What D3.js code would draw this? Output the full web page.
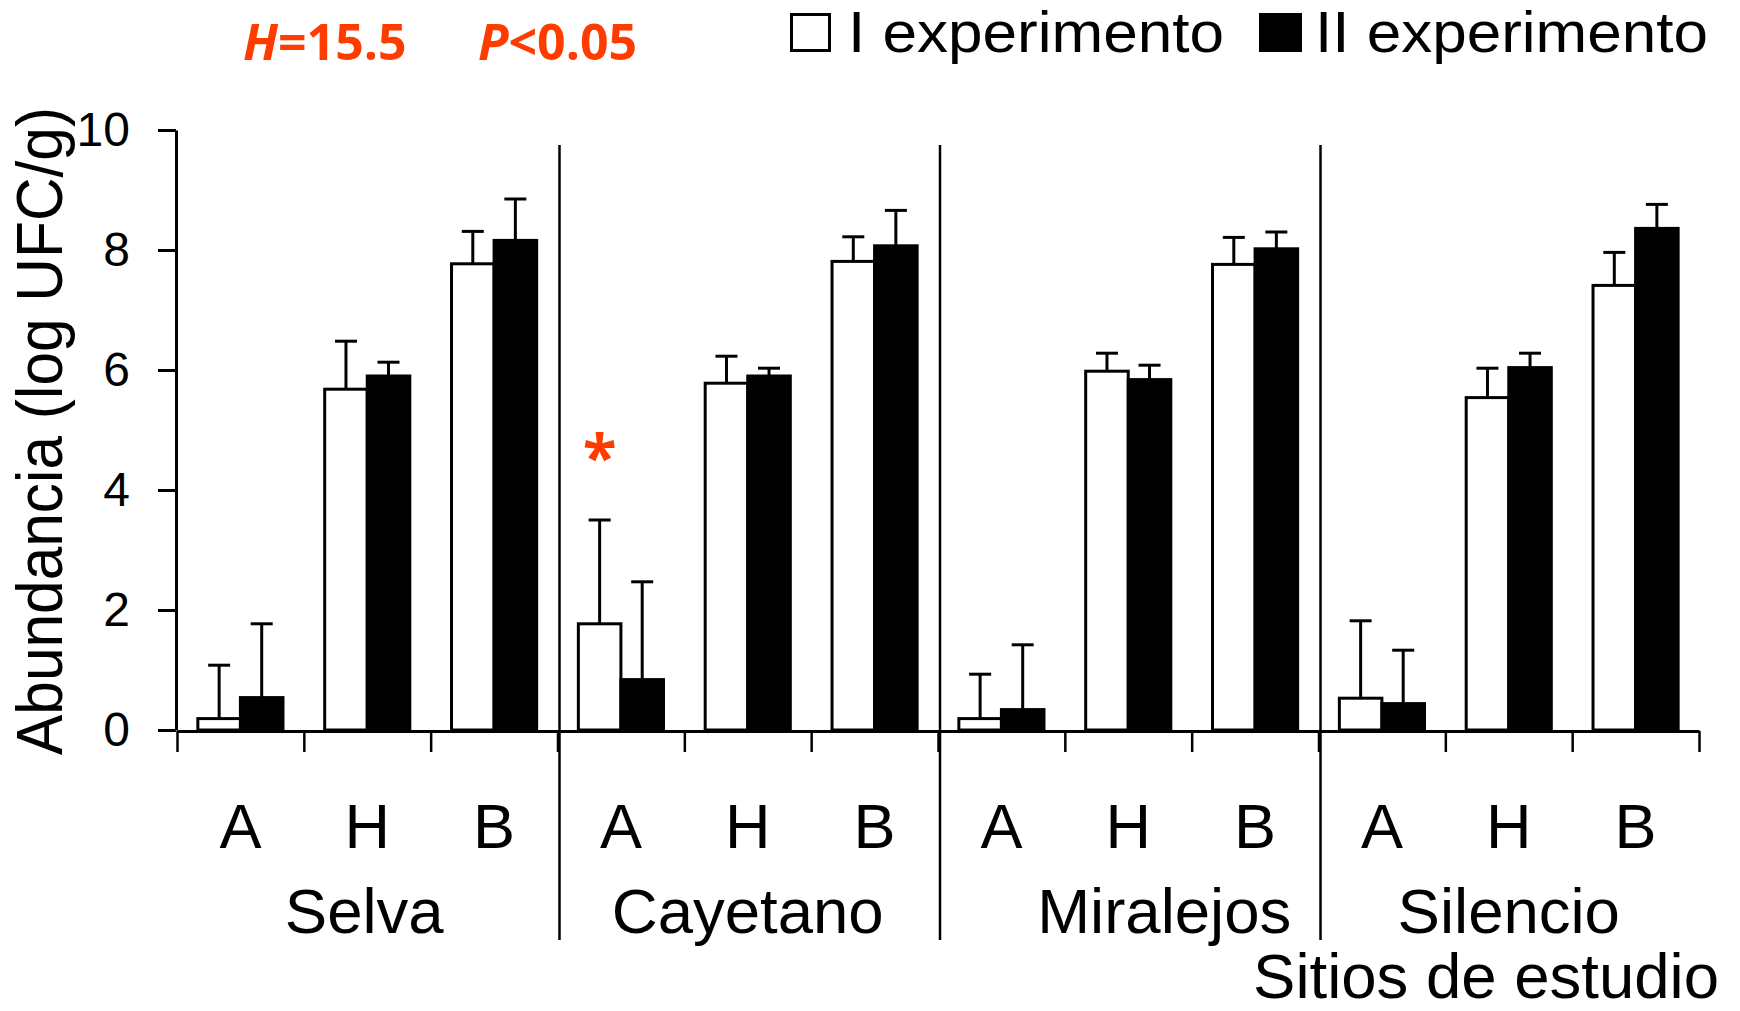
<!DOCTYPE html>
<html>
<head>
<meta charset="utf-8">
<script src="https://cdn.jsdelivr.net/npm/d3@7"></script>
<style>
    body { margin: 0; background: #fff }
    svg { display: block; font-family: 'Liberation Sans', Arial, sans-serif }
</style>
</head>
<body>
<svg id="chart" width="1740" height="1011"></svg>
<script>
'use strict'

const sites = ['Selva', 'Cayetano', 'Miralejos', 'Silencio']
const zones = ['A', 'H', 'B']
const series = ['I experimento', 'II experimento']

// means and upper error per site/zone, in order Selva A,H,B, Cayetano A,H,B ...
const exp1 = [0.19, 5.68, 7.77, 1.77, 5.78, 7.81, 0.19, 5.98, 7.76, 0.53, 5.54, 7.41]
const exp1Err = [0.89, 0.80, 0.54, 1.73, 0.45, 0.41, 0.74, 0.30, 0.45, 1.29, 0.49, 0.55]
const exp2 = [0.54, 5.90, 8.16, 0.84, 5.90, 8.07, 0.34, 5.84, 8.02, 0.44, 6.04, 8.36]
const exp2Err = [1.23, 0.23, 0.69, 1.63, 0.13, 0.59, 1.08, 0.24, 0.28, 0.89, 0.24, 0.40]

const yTicks = [0, 2, 4, 6, 8, 10]
const statH = '15.5'
const statP = '0.05'
const starAt = { site: 'Cayetano', zone: 'A', serie: 'I experimento' }

class GroupedBarChart {

    constructor(element) { this.svg = element }

    render() {
        this.svg.html('')

        let left = 177, right = 1699, top = 130, bottom = 730
        let black = '#000', red = '#ff3c00'

        let keys = []
        sites.forEach(s => zones.forEach(z => keys.push(`${s}|${z}`)))

        let data = keys.map((k, i) => {
            let [site, zone] = k.split('|')
            return {
                key: k, site: site, zone: zone,
                values: [
                    { serie: series[0], value: exp1[i], err: exp1Err[i] },
                    { serie: series[1], value: exp2[i], err: exp2Err[i] }
                ]
            }
        })

        let x0 = d3.scaleBand().domain(keys).range([left, right]).paddingInner(0).paddingOuter(0)
        let x1 = d3.scaleBand().domain(series).range([0, x0.bandwidth()]).paddingInner(0).paddingOuter(0.49)
        let xIdx = d3.scaleLinear().domain([0, keys.length]).range([left, right])
        let y = d3.scaleLinear().domain([0, 10]).range([bottom, top])
        let fill = d3.scaleOrdinal().domain(series).range(['#fff', '#000'])

        // bars
        let groups = this.svg
            .append('g')
            .selectAll('g')
            .data(data)
            .enter()
            .append('g')
            .attr('transform', d => `translate(${x0(d.key)}, 0)`)

        groups
            .selectAll('rect')
            .data(d => d.values)
            .enter()
            .append('rect')
            .attr('x', d => x1(d.serie))
            .attr('y', d => y(d.value))
            .attr('width', x1.bandwidth())
            .attr('height', d => y(0) - y(d.value))
            .attr('fill', d => fill(d.serie))
            .attr('stroke', black)
            .attr('stroke-width', 3)

        // upper error bars
        let capW = 22
        let err = groups
            .selectAll('g.err')
            .data(d => d.values)
            .enter()
            .append('g')
            .attr('class', 'err')
            .attr('stroke', black)
            .attr('stroke-width', 3)

        err.append('line')
            .attr('x1', d => x1(d.serie) + x1.bandwidth() / 2)
            .attr('x2', d => x1(d.serie) + x1.bandwidth() / 2)
            .attr('y1', d => y(d.value))
            .attr('y2', d => y(d.value + d.err))

        err.append('line')
            .attr('x1', d => x1(d.serie) + x1.bandwidth() / 2 - capW / 2)
            .attr('x2', d => x1(d.serie) + x1.bandwidth() / 2 + capW / 2)
            .attr('y1', d => y(d.value + d.err))
            .attr('y2', d => y(d.value + d.err))

        // y axis
        let yAxis = this.svg
            .append('g')
            .attr('transform', `translate(${left - 1}, 0)`)
            .call(d3.axisLeft(y).tickValues(yTicks).tickSize(18).tickSizeOuter(0).tickPadding(28))

        yAxis.select('.domain').attr('stroke-width', 3)
        yAxis.selectAll('.tick line').attr('stroke-width', 3)
        yAxis.selectAll('.tick text')
            .attr('font-size', '48px')
            .attr('font-family', 'Liberation Sans, Arial, sans-serif')
            .attr('fill', black)

        // x axis: ticks on every band edge, no labels
        let xAxis = this.svg
            .append('g')
            .attr('transform', `translate(0, ${y(0) + 1})`)
            .call(d3.axisBottom(xIdx).tickValues(d3.range(keys.length + 1)).tickFormat('').tickSize(21).tickSizeOuter(0))

        xAxis.select('.domain').attr('stroke-width', 3)
        xAxis.selectAll('.tick line').attr('stroke-width', 2.5)

        // site separators
        this.svg
            .append('g')
            .selectAll('line')
            .data(sites.slice(1))
            .enter()
            .append('line')
            .attr('x1', (d, i) => xIdx((i + 1) * zones.length) + 2)
            .attr('x2', (d, i) => xIdx((i + 1) * zones.length) + 2)
            .attr('y1', 145)
            .attr('y2', 940)
            .attr('stroke', black)
            .attr('stroke-width', 2.5)

        // zone labels
        this.svg
            .append('g')
            .attr('font-size', '63px')
            .attr('text-anchor', 'middle')
            .selectAll('text')
            .data(data)
            .enter()
            .append('text')
            .attr('x', d => x0(d.key) + x0.bandwidth() / 2)
            .attr('y', 848)
            .text(d => d.zone)

        // site labels
        let nudge = { Selva: -3, Miralejos: 36 }
        this.svg
            .append('g')
            .attr('font-size', '63.5px')
            .attr('text-anchor', 'middle')
            .selectAll('text')
            .data(sites)
            .enter()
            .append('text')
            .attr('x', (d, i) => (xIdx(i * zones.length) + xIdx((i + 1) * zones.length)) / 2 + (nudge[d] || 0))
            .attr('y', 933)
            .text(d => d)

        this.svg
            .append('text')
            .attr('x', 1719)
            .attr('y', 998)
            .attr('text-anchor', 'end')
            .attr('font-size', '63.5px')
            .text('Sitios de estudio')

        // y title
        this.svg
            .append('text')
            .attr('transform', 'translate(62, 431) rotate(-90)')
            .attr('text-anchor', 'middle')
            .attr('font-size', '64px')
            .attr('textLength', 648)
            .attr('lengthAdjust', 'spacingAndGlyphs')
            .text('Abundancia (log UFC/g)')

        // legend (glyphs a little wider than the font, as in the original)
        let legend = this.svg.append('g').attr('font-size', '57px').attr('lengthAdjust', 'spacingAndGlyphs')
        legend.append('rect').attr('x', 791.5).attr('y', 14.5).attr('width', 38).attr('height', 36)
            .attr('fill', fill(series[0])).attr('stroke', black).attr('stroke-width', 3)
        legend.append('text').attr('x', 848).attr('y', 52).attr('textLength', 376)
            .attr('lengthAdjust', 'spacingAndGlyphs').text(series[0])
        legend.append('rect').attr('x', 1260).attr('y', 14).attr('width', 41).attr('height', 37)
            .attr('fill', fill(series[1])).attr('stroke', black).attr('stroke-width', 2)
        legend.append('text').attr('x', 1315).attr('y', 52).attr('textLength', 393)
            .attr('lengthAdjust', 'spacingAndGlyphs').text(series[1])

        // statistics
        let stat = this.svg.append('g')
            .attr('font-family', 'Open Sans, sans-serif')
            .attr('font-weight', 'bold')
            .attr('font-size', '50px')
            .attr('fill', red)

        let h = stat.append('text').attr('x', 243).attr('y', 60)
        h.append('tspan').attr('font-style', 'italic').text('H')
        h.append('tspan').text(`=${statH}`)

        let p = stat.append('text').attr('x', 478).attr('y', 60)
        p.append('tspan').attr('font-style', 'italic').text('P')
        p.append('tspan').text(`<${statP}`)

        // significance mark
        let sd = data.find(d => d.site === starAt.site && d.zone === starAt.zone)
        stat.append('text')
            .attr('x', x0(sd.key) + x1(starAt.serie) + x1.bandwidth() / 2)
            .attr('y', 480)
            .attr('text-anchor', 'middle')
            .attr('font-size', '62px')
            .text('*')
    }

}

new GroupedBarChart(d3.select('#chart')).render()
</script>
</body>
</html>
